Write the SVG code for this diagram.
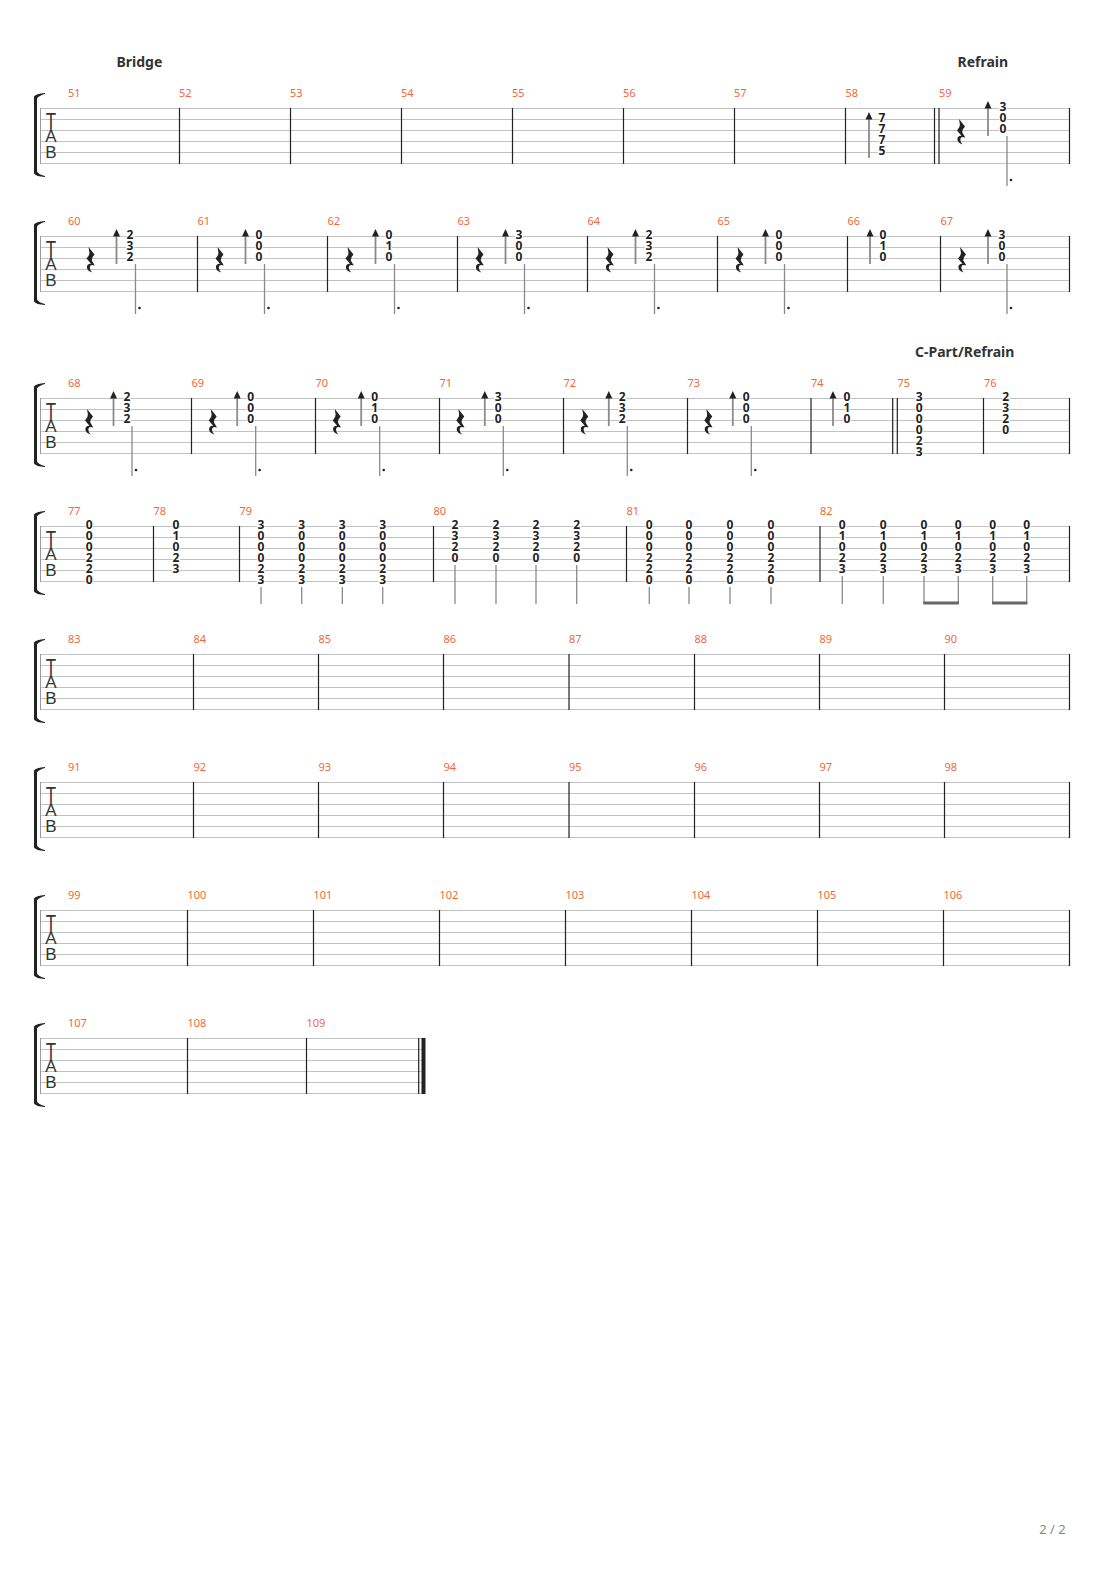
<svg xmlns="http://www.w3.org/2000/svg" xmlns:xlink="http://www.w3.org/1999/xlink" width="1110" height="1570" viewBox="0 0 1110 1570">
<style>
.l{stroke:#c2c2c2;stroke-width:1;fill:none}
.b{stroke:#222;stroke-width:1.2;fill:none}
.n{font-family:"Noto Sans","Open Sans",sans-serif;font-size:11px;fill:#f0693b}
.t{font-family:"Noto Sans","Open Sans",sans-serif;font-size:14px;font-weight:bold;fill:#333}
.d{font-family:"Noto Sans","Liberation Sans",sans-serif;font-size:12px;font-weight:bold;fill:#222;text-anchor:middle;paint-order:stroke;stroke:#fff;stroke-width:2px}
.s{stroke:#8a8a8a;stroke-width:1.3;fill:none}
.a{stroke:#8a8a8a;stroke-width:1.8;fill:none}
.h{fill:#222}
.tab{font-family:"Liberation Sans",sans-serif;font-size:17px;fill:#333;text-anchor:middle}
.pg{font-family:"Noto Sans","Liberation Sans",sans-serif;font-size:13px;fill:#888}
</style>
<defs>
<g id="lines"><path class="l" d="M40,0.5H1070M40,11.5H1070M40,22.5H1070M40,33.5H1070M40,44.5H1070M40,55.5H1070"/></g>
<g id="head">
<path class="h" d="M34,-11.5 Q36,-14.5 45,-15 L45,-14 Q39,-12.5 37,-9.5 L37,63.5 Q39,66.5 45,68 L45,69 Q36,68.5 34,65.5 Z"/>
<path d="M40.5,0V56" stroke="#999" stroke-width="1"/>
<text class="tab" transform="translate(51,22) scale(1,1.45)">T</text>
<text class="tab" x="51" y="34">A</text>
<text class="tab" x="51" y="50.3">B</text>
</g>
<path id="rest" class="h" d="M2.5,0 L8.5,7.5 Q5.5,10.5 5.8,13.5 L8.8,18.5 Q4.2,16.8 3.8,20.2 Q3.6,23 6.2,25.5 Q1,24 0.9,20.3 Q0.9,16.6 5,16.8 L0.5,11.5 Q3.6,8.6 3.4,5.6 Z"/>
<g id="arr3"><path class="a" d="M0,0V28"/><path class="h" d="M-3.5,0.5L0,-7L3.5,0.5Z"/></g>
<g id="sd"><path class="s" d="M0,6V56"/><circle class="h" cx="4" cy="50" r="1.3"/></g>
</defs>

<g id="system-1">
<use href="#lines" transform="translate(0,108)"/>
<use href="#head" transform="translate(0,108)"/>
<path class="b" d="M179.5,108V164M290.5,108V164M401.5,108V164M512.5,108V164M623.5,108V164M734.5,108V164M845.5,108V164M934.5,108V164M939,108V164M1069.5,108V164"/>
<text class="t" x="116.5" y="67">Bridge</text>
<text class="t" x="957.5" y="67">Refrain</text>
<g class="n"><text x="68" y="96.5">51</text><text x="179" y="96.5">52</text><text x="290" y="96.5">53</text><text x="401" y="96.5">54</text><text x="512" y="96.5">55</text><text x="623" y="96.5">56</text><text x="734" y="96.5">57</text><text x="845.5" y="96.5">58</text><text x="939" y="96.5">59</text></g>
<g id="m58"><path class="a" d="M869,119V158"/><path class="h" d="M865.5,119.5L869,112L872.5,119.5Z"/>
<text class="d"><tspan x="882" y="121.5">7</tspan><tspan x="882" y="132.5">7</tspan><tspan x="882" y="143.5">7</tspan><tspan x="882" y="154.5">5</tspan></text></g>
<g id="m59"><use href="#rest" transform="translate(956.5,119)"/><use href="#arr3" transform="translate(988,108)"/>
<text class="d"><tspan x="1003" y="110.5">3</tspan><tspan x="1003" y="121.5">0</tspan><tspan x="1003" y="132.5">0</tspan></text>
<use href="#sd" transform="translate(1007,130)"/></g>
</g>

<g id="system-2">
<use href="#lines" transform="translate(0,236)"/>
<use href="#head" transform="translate(0,236)"/>
<path class="b" d="M197.5,236V292M327.5,236V292M457.5,236V292M587.5,236V292M717.5,236V292M847.5,236V292M940.5,236V292M1069.5,236V292"/>
<g class="n"><text x="68" y="224.5">60</text><text x="197.5" y="224.5">61</text><text x="327.5" y="224.5">62</text><text x="457.5" y="224.5">63</text><text x="587.5" y="224.5">64</text><text x="717.5" y="224.5">65</text><text x="847.5" y="224.5">66</text><text x="940.5" y="224.5">67</text></g>
<g id="m60"><use href="#rest" transform="translate(86,247)"/><use href="#arr3" transform="translate(116.5,236)"/>
<text class="d"><tspan x="130" y="238.5">2</tspan><tspan x="130" y="249.5">3</tspan><tspan x="130" y="260.5">2</tspan></text><use href="#sd" transform="translate(135.5,258)"/></g>
<g id="m61"><use href="#rest" transform="translate(215,247)"/><use href="#arr3" transform="translate(245.5,236)"/>
<text class="d"><tspan x="259" y="238.5">0</tspan><tspan x="259" y="249.5">0</tspan><tspan x="259" y="260.5">0</tspan></text><use href="#sd" transform="translate(264.5,258)"/></g>
<g id="m62"><use href="#rest" transform="translate(345,247)"/><use href="#arr3" transform="translate(375.5,236)"/>
<text class="d"><tspan x="389" y="238.5">0</tspan><tspan x="389" y="249.5">1</tspan><tspan x="389" y="260.5">0</tspan></text><use href="#sd" transform="translate(394.5,258)"/></g>
<g id="m63"><use href="#rest" transform="translate(475,247)"/><use href="#arr3" transform="translate(505.5,236)"/>
<text class="d"><tspan x="519" y="238.5">3</tspan><tspan x="519" y="249.5">0</tspan><tspan x="519" y="260.5">0</tspan></text><use href="#sd" transform="translate(524.5,258)"/></g>
<g id="m64"><use href="#rest" transform="translate(605,247)"/><use href="#arr3" transform="translate(635.5,236)"/>
<text class="d"><tspan x="649" y="238.5">2</tspan><tspan x="649" y="249.5">3</tspan><tspan x="649" y="260.5">2</tspan></text><use href="#sd" transform="translate(654.5,258)"/></g>
<g id="m65"><use href="#rest" transform="translate(735,247)"/><use href="#arr3" transform="translate(765.5,236)"/>
<text class="d"><tspan x="779" y="238.5">0</tspan><tspan x="779" y="249.5">0</tspan><tspan x="779" y="260.5">0</tspan></text><use href="#sd" transform="translate(784.5,258)"/></g>
<g id="m66"><use href="#arr3" transform="translate(870,236)"/>
<text class="d"><tspan x="883" y="238.5">0</tspan><tspan x="883" y="249.5">1</tspan><tspan x="883" y="260.5">0</tspan></text></g>
<g id="m67"><use href="#rest" transform="translate(957.5,247)"/><use href="#arr3" transform="translate(988,236)"/>
<text class="d"><tspan x="1002" y="238.5">3</tspan><tspan x="1002" y="249.5">0</tspan><tspan x="1002" y="260.5">0</tspan></text><use href="#sd" transform="translate(1007,258)"/></g>
</g>

<g id="system-3">
<use href="#lines" transform="translate(0,398)"/>
<use href="#head" transform="translate(0,398)"/>
<path class="b" d="M191.5,398V454M315.5,398V454M439.5,398V454M563.5,398V454M687.5,398V454M811,398V454M892.7,398V454M897.3,398V454M983.5,398V454M1069.5,398V454"/>
<text class="t" x="915" y="357">C-Part/Refrain</text>
<g class="n"><text x="68" y="386.5">68</text><text x="191.5" y="386.5">69</text><text x="315.5" y="386.5">70</text><text x="439.5" y="386.5">71</text><text x="563.5" y="386.5">72</text><text x="687.5" y="386.5">73</text><text x="811" y="386.5">74</text><text x="897.5" y="386.5">75</text><text x="984" y="386.5">76</text></g>
<g id="m68"><use href="#rest" transform="translate(84.5,409)"/><use href="#arr3" transform="translate(113.5,398)"/>
<text class="d"><tspan x="127" y="400.5">2</tspan><tspan x="127" y="411.5">3</tspan><tspan x="127" y="422.5">2</tspan></text><use href="#sd" transform="translate(132,420)"/></g>
<g id="m69"><use href="#rest" transform="translate(208.2,409)"/><use href="#arr3" transform="translate(237.2,398)"/>
<text class="d"><tspan x="250.7" y="400.5">0</tspan><tspan x="250.7" y="411.5">0</tspan><tspan x="250.7" y="422.5">0</tspan></text><use href="#sd" transform="translate(255.7,420)"/></g>
<g id="m70"><use href="#rest" transform="translate(332.2,409)"/><use href="#arr3" transform="translate(361.2,398)"/>
<text class="d"><tspan x="374.7" y="400.5">0</tspan><tspan x="374.7" y="411.5">1</tspan><tspan x="374.7" y="422.5">0</tspan></text><use href="#sd" transform="translate(379.7,420)"/></g>
<g id="m71"><use href="#rest" transform="translate(455.8,409)"/><use href="#arr3" transform="translate(484.8,398)"/>
<text class="d"><tspan x="498.3" y="400.5">3</tspan><tspan x="498.3" y="411.5">0</tspan><tspan x="498.3" y="422.5">0</tspan></text><use href="#sd" transform="translate(503.3,420)"/></g>
<g id="m72"><use href="#rest" transform="translate(579.8,409)"/><use href="#arr3" transform="translate(608.8,398)"/>
<text class="d"><tspan x="622.3" y="400.5">2</tspan><tspan x="622.3" y="411.5">3</tspan><tspan x="622.3" y="422.5">2</tspan></text><use href="#sd" transform="translate(627.3,420)"/></g>
<g id="m73"><use href="#rest" transform="translate(703.8,409)"/><use href="#arr3" transform="translate(732.8,398)"/>
<text class="d"><tspan x="746.3" y="400.5">0</tspan><tspan x="746.3" y="411.5">0</tspan><tspan x="746.3" y="422.5">0</tspan></text><use href="#sd" transform="translate(751.3,420)"/></g>
<g id="m74"><use href="#arr3" transform="translate(833,398)"/>
<text class="d"><tspan x="847" y="400.5">0</tspan><tspan x="847" y="411.5">1</tspan><tspan x="847" y="422.5">0</tspan></text></g>
<g id="m75"><text class="d"><tspan x="919.3" y="400.5">3</tspan><tspan x="919.3" y="411.5">0</tspan><tspan x="919.3" y="422.5">0</tspan><tspan x="919.3" y="433.5">0</tspan><tspan x="919.3" y="444.5">2</tspan><tspan x="919.3" y="455.5">3</tspan></text></g>
<g id="m76"><text class="d"><tspan x="1005.7" y="400.5">2</tspan><tspan x="1005.7" y="411.5">3</tspan><tspan x="1005.7" y="422.5">2</tspan><tspan x="1005.7" y="433.5">0</tspan></text></g>
</g>

<g id="system-4">
<use href="#lines" transform="translate(0,526)"/>
<use href="#head" transform="translate(0,526)"/>
<path class="b" d="M153.5,526V582M239.5,526V582M433.5,526V582M626.5,526V582M820,526V582M1069.5,526V582"/>
<g class="n"><text x="68" y="514.5">77</text><text x="153.5" y="514.5">78</text><text x="239.5" y="514.5">79</text><text x="433.5" y="514.5">80</text><text x="626.5" y="514.5">81</text><text x="820" y="514.5">82</text></g>
<g id="m77"><text class="d"><tspan x="89.3" y="528.5">0</tspan><tspan x="89.3" y="539.5">0</tspan><tspan x="89.3" y="550.5">0</tspan><tspan x="89.3" y="561.5">2</tspan><tspan x="89.3" y="572.5">2</tspan><tspan x="89.3" y="583.5">0</tspan></text></g>
<g id="m78"><text class="d"><tspan x="176" y="528.5">0</tspan><tspan x="176" y="539.5">1</tspan><tspan x="176" y="550.5">0</tspan><tspan x="176" y="561.5">2</tspan><tspan x="176" y="572.5">3</tspan></text></g>
<g id="m79">
<text class="d"><tspan x="261" y="528.5">3</tspan><tspan x="261" y="539.5">0</tspan><tspan x="261" y="550.5">0</tspan><tspan x="261" y="561.5">0</tspan><tspan x="261" y="572.5">2</tspan><tspan x="261" y="583.5">3</tspan></text>
<text class="d"><tspan x="301.7" y="528.5">3</tspan><tspan x="301.7" y="539.5">0</tspan><tspan x="301.7" y="550.5">0</tspan><tspan x="301.7" y="561.5">0</tspan><tspan x="301.7" y="572.5">2</tspan><tspan x="301.7" y="583.5">3</tspan></text>
<text class="d"><tspan x="342.3" y="528.5">3</tspan><tspan x="342.3" y="539.5">0</tspan><tspan x="342.3" y="550.5">0</tspan><tspan x="342.3" y="561.5">0</tspan><tspan x="342.3" y="572.5">2</tspan><tspan x="342.3" y="583.5">3</tspan></text>
<text class="d"><tspan x="382.7" y="528.5">3</tspan><tspan x="382.7" y="539.5">0</tspan><tspan x="382.7" y="550.5">0</tspan><tspan x="382.7" y="561.5">0</tspan><tspan x="382.7" y="572.5">2</tspan><tspan x="382.7" y="583.5">3</tspan></text>
</g>
<g id="m80">
<text class="d"><tspan x="455" y="528.5">2</tspan><tspan x="455" y="539.5">3</tspan><tspan x="455" y="550.5">2</tspan><tspan x="455" y="561.5">0</tspan></text>
<text class="d"><tspan x="496" y="528.5">2</tspan><tspan x="496" y="539.5">3</tspan><tspan x="496" y="550.5">2</tspan><tspan x="496" y="561.5">0</tspan></text>
<text class="d"><tspan x="536" y="528.5">2</tspan><tspan x="536" y="539.5">3</tspan><tspan x="536" y="550.5">2</tspan><tspan x="536" y="561.5">0</tspan></text>
<text class="d"><tspan x="576.7" y="528.5">2</tspan><tspan x="576.7" y="539.5">3</tspan><tspan x="576.7" y="550.5">2</tspan><tspan x="576.7" y="561.5">0</tspan></text>
</g>
<g id="m81">
<text class="d"><tspan x="649.3" y="528.5">0</tspan><tspan x="649.3" y="539.5">0</tspan><tspan x="649.3" y="550.5">0</tspan><tspan x="649.3" y="561.5">2</tspan><tspan x="649.3" y="572.5">2</tspan><tspan x="649.3" y="583.5">0</tspan></text>
<text class="d"><tspan x="689" y="528.5">0</tspan><tspan x="689" y="539.5">0</tspan><tspan x="689" y="550.5">0</tspan><tspan x="689" y="561.5">2</tspan><tspan x="689" y="572.5">2</tspan><tspan x="689" y="583.5">0</tspan></text>
<text class="d"><tspan x="730" y="528.5">0</tspan><tspan x="730" y="539.5">0</tspan><tspan x="730" y="550.5">0</tspan><tspan x="730" y="561.5">2</tspan><tspan x="730" y="572.5">2</tspan><tspan x="730" y="583.5">0</tspan></text>
<text class="d"><tspan x="771" y="528.5">0</tspan><tspan x="771" y="539.5">0</tspan><tspan x="771" y="550.5">0</tspan><tspan x="771" y="561.5">2</tspan><tspan x="771" y="572.5">2</tspan><tspan x="771" y="583.5">0</tspan></text>
</g>
<g id="m82">
<text class="d"><tspan x="842.3" y="528.5">0</tspan><tspan x="842.3" y="539.5">1</tspan><tspan x="842.3" y="550.5">0</tspan><tspan x="842.3" y="561.5">2</tspan><tspan x="842.3" y="572.5">3</tspan></text>
<text class="d"><tspan x="883.3" y="528.5">0</tspan><tspan x="883.3" y="539.5">1</tspan><tspan x="883.3" y="550.5">0</tspan><tspan x="883.3" y="561.5">2</tspan><tspan x="883.3" y="572.5">3</tspan></text>
<text class="d"><tspan x="924" y="528.5">0</tspan><tspan x="924" y="539.5">1</tspan><tspan x="924" y="550.5">0</tspan><tspan x="924" y="561.5">2</tspan><tspan x="924" y="572.5">3</tspan></text>
<text class="d"><tspan x="958.3" y="528.5">0</tspan><tspan x="958.3" y="539.5">1</tspan><tspan x="958.3" y="550.5">0</tspan><tspan x="958.3" y="561.5">2</tspan><tspan x="958.3" y="572.5">3</tspan></text>
<text class="d"><tspan x="992.7" y="528.5">0</tspan><tspan x="992.7" y="539.5">1</tspan><tspan x="992.7" y="550.5">0</tspan><tspan x="992.7" y="561.5">2</tspan><tspan x="992.7" y="572.5">3</tspan></text>
<text class="d"><tspan x="1026.7" y="528.5">0</tspan><tspan x="1026.7" y="539.5">1</tspan><tspan x="1026.7" y="550.5">0</tspan><tspan x="1026.7" y="561.5">2</tspan><tspan x="1026.7" y="572.5">3</tspan></text>
</g>
</g>

<g id="connectors">
<path class="s" d="M261,587V604M301.7,587V604M342.3,587V604M382.7,587V604M455,565V604M496,565V604M536,565V604M576.7,565V604M649.3,587V604M689,587V604M730,587V604M771,587V604M842.3,576V604M883.3,576V604M924,576V604M958.3,576V604M992.7,576V604M1026.7,576V604"/>
<rect x="923.4" y="601.5" width="35.5" height="3" fill="#666"/>
<rect x="992.1" y="601.5" width="35.2" height="3" fill="#666"/>
</g>

<g id="system-5">
<use href="#lines" transform="translate(0,654)"/>
<use href="#head" transform="translate(0,654)"/>
<path class="b" d="M193.5,654V710M318.5,654V710M443.5,654V710M569,654V710M694.5,654V710M819.5,654V710M944.5,654V710M1069.5,654V710"/>
<g class="n"><text x="68" y="642.5">83</text><text x="193.5" y="642.5">84</text><text x="318.5" y="642.5">85</text><text x="443.5" y="642.5">86</text><text x="569" y="642.5">87</text><text x="694.5" y="642.5">88</text><text x="819.5" y="642.5">89</text><text x="944.5" y="642.5">90</text></g>
</g>

<g id="system-6">
<use href="#lines" transform="translate(0,782)"/>
<use href="#head" transform="translate(0,782)"/>
<path class="b" d="M193.5,782V838M318.5,782V838M443.5,782V838M569,782V838M694.5,782V838M819.5,782V838M944.5,782V838M1069.5,782V838"/>
<g class="n"><text x="68" y="770.5">91</text><text x="193.5" y="770.5">92</text><text x="318.5" y="770.5">93</text><text x="443.5" y="770.5">94</text><text x="569" y="770.5">95</text><text x="694.5" y="770.5">96</text><text x="819.5" y="770.5">97</text><text x="944.5" y="770.5">98</text></g>
</g>

<g id="system-7">
<use href="#lines" transform="translate(0,910)"/>
<use href="#head" transform="translate(0,910)"/>
<path class="b" d="M187.5,910V966M313.5,910V966M439.5,910V966M565.5,910V966M691.5,910V966M817.5,910V966M943.5,910V966M1069.5,910V966"/>
<g class="n"><text x="68" y="898.5">99</text><text x="187.5" y="898.5">100</text><text x="313.5" y="898.5">101</text><text x="439.5" y="898.5">102</text><text x="565.5" y="898.5">103</text><text x="691.5" y="898.5">104</text><text x="817.5" y="898.5">105</text><text x="943.5" y="898.5">106</text></g>
</g>

<g id="system-8">
<path class="l" d="M40,1038.5H425M40,1049.5H425M40,1060.5H425M40,1071.5H425M40,1082.5H425M40,1093.5H425"/>
<use href="#head" transform="translate(0,1038)"/>
<path class="b" d="M187.5,1038V1094M306.5,1038V1094M418.7,1038V1094"/>
<rect x="421.5" y="1038" width="4" height="56" fill="#222"/>
<g class="n"><text x="68" y="1026.5">107</text><text x="187.5" y="1026.5">108</text><text x="306.5" y="1026.5">109</text></g>
</g>

<text id="page" class="pg" x="1052.5" y="1534" text-anchor="middle">2 / 2</text>
</svg>
